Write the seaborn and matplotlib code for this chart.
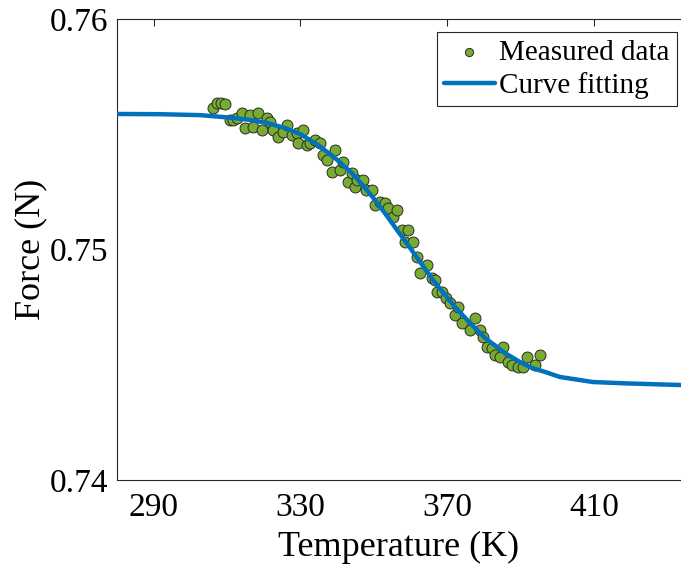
import numpy as np
import pandas as pd
from matplotlib import pyplot as plt
from matplotlib import ticker as ticker
import seaborn as sns

sns.set_style('white')
plt.rcParams['font.family'] = ['Liberation Serif', 'DejaVu Serif']
plt.rcParams['text.color'] = 'black'

# measured points (K, N)
temp_meas = [306.2, 307.2, 308.3, 309.4, 310.8, 311.6, 312.7, 314.1, 314.9, 316.2,
             317.1, 318.4, 319.5, 320.9, 321.7, 322.5, 323.9, 325.2, 326.3, 327.7,
             329.0, 329.3, 330.7, 331.8, 332.6, 334.0, 335.3, 336.1, 337.2, 339.4,
             338.6, 340.8, 341.6, 342.9, 344.0, 344.9, 345.4, 347.0, 347.8, 349.5,
             350.3, 351.7, 353.0, 353.8, 355.2, 356.3, 357.7, 358.5, 359.3, 360.7,
             361.7, 362.6, 364.5, 365.8, 366.6, 367.2, 368.6, 369.6, 370.7, 372.1,
             372.9, 374.0, 376.2, 377.5, 378.9, 379.7, 380.8, 382.2, 383.0, 384.4,
             385.2, 386.5, 387.6, 389.3, 390.6, 391.7, 393.9, 395.3]
force_meas = [0.75614, 0.75636, 0.75636, 0.75631, 0.75562, 0.75562, 0.75571, 0.75592, 0.75527, 0.75583,
              0.75531, 0.75592, 0.75518, 0.75571, 0.75553, 0.75518, 0.75488, 0.75510, 0.75540, 0.75497,
              0.75505, 0.75462, 0.75518, 0.75453, 0.75462, 0.75475, 0.75462, 0.75410, 0.75388, 0.75432,
              0.75336, 0.75345, 0.75380, 0.75293, 0.75332, 0.75271, 0.75302, 0.75302, 0.75258, 0.75258,
              0.75193, 0.75206, 0.75202, 0.75180, 0.75141, 0.75171, 0.75085, 0.75033, 0.75085, 0.75033,
              0.74967, 0.74898, 0.74933, 0.74876, 0.74868, 0.74816, 0.74816, 0.74790, 0.74768, 0.74716,
              0.74751, 0.74681, 0.74651, 0.74703, 0.74651, 0.74620, 0.74577, 0.74573, 0.74542, 0.74534,
              0.74577, 0.74512, 0.74499, 0.74490, 0.74490, 0.74534, 0.74499, 0.74542]

# fitted curve
temp_fit = [280.0, 291.7, 302.6, 311.6, 316.2, 320.9, 325.8, 329.9, 334.8, 339.4,
            344.0, 347.6, 350.3, 353.0, 356.3, 359.3, 362.6, 366.1, 369.4, 372.1,
            376.2, 380.3, 385.7, 389.8, 393.1, 396.6, 400.7, 409.7, 419.0, 433.7]
force_fit = [0.75588, 0.75587, 0.75583, 0.75571, 0.75562, 0.75549, 0.75527, 0.75501, 0.75453, 0.75397,
             0.75332, 0.75267, 0.75215, 0.75158, 0.75085, 0.75020, 0.74946, 0.74868, 0.74803, 0.74751,
             0.74681, 0.74616, 0.74551, 0.74512, 0.74486, 0.74469, 0.74447, 0.74425, 0.74419, 0.74412]

df_meas = pd.DataFrame({'T': temp_meas, 'F': force_meas})
df_fit = pd.DataFrame({'T': temp_fit, 'F': force_fit})

fig = plt.figure(figsize=(6.81, 5.74), dpi=100)
ax = fig.add_axes([117/681, 94/574, 564/681, 461/574])

sns.lineplot(x='T', y='F', data=df_fit, color='#0072BD', linewidth=3.2, ax=ax,
             label='Curve fitting', zorder=3)
sns.scatterplot(x='T', y='F', data=df_meas, color='#77AC30', edgecolor='#2b2b2b',
                linewidth=0.7, s=62, ax=ax, label='Measured data', zorder=2)

ax.set(xlim=(280, 433.7), ylim=(0.74, 0.76))
ax.xaxis.set_major_locator(ticker.FixedLocator([290, 330, 370, 410]))
ax.yaxis.set_major_locator(ticker.FixedLocator([0.74, 0.75, 0.76]))
ax.yaxis.set_major_formatter(ticker.FormatStrFormatter('%.2f'))
ax.tick_params(direction='in', length=5, width=0.8, labelsize=24, top=True,
               color='#262626', labelcolor='black', pad=6)
ax.tick_params(axis='x', pad=9)
for side in ['left', 'top', 'bottom']:
    ax.spines[side].set_color('#262626')
    ax.spines[side].set_linewidth(0.8)
ax.spines['right'].set_visible(False)

ax.set_xlabel('Temperature (K)', fontsize=26, labelpad=6, color='black')
ax.set_ylabel('Force (N)', fontsize=26, labelpad=2, color='black')

handles, labels = ax.get_legend_handles_labels()
order = [labels.index('Measured data'), labels.index('Curve fitting')]
leg = ax.legend([handles[i] for i in order], [labels[i] for i in order],
                loc='upper right', bbox_to_anchor=(0.993, 0.972), fontsize=21,
                frameon=True, fancybox=False, framealpha=1, edgecolor='#262626',
                handlelength=1.75, handletextpad=0.15, borderpad=0.25, labelspacing=0.22,
                borderaxespad=0, markerscale=0.75)
leg.get_frame().set_linewidth(0.8)
for t in leg.get_texts():
    t.set_color('black')

fig.savefig('out.png', dpi=100)
